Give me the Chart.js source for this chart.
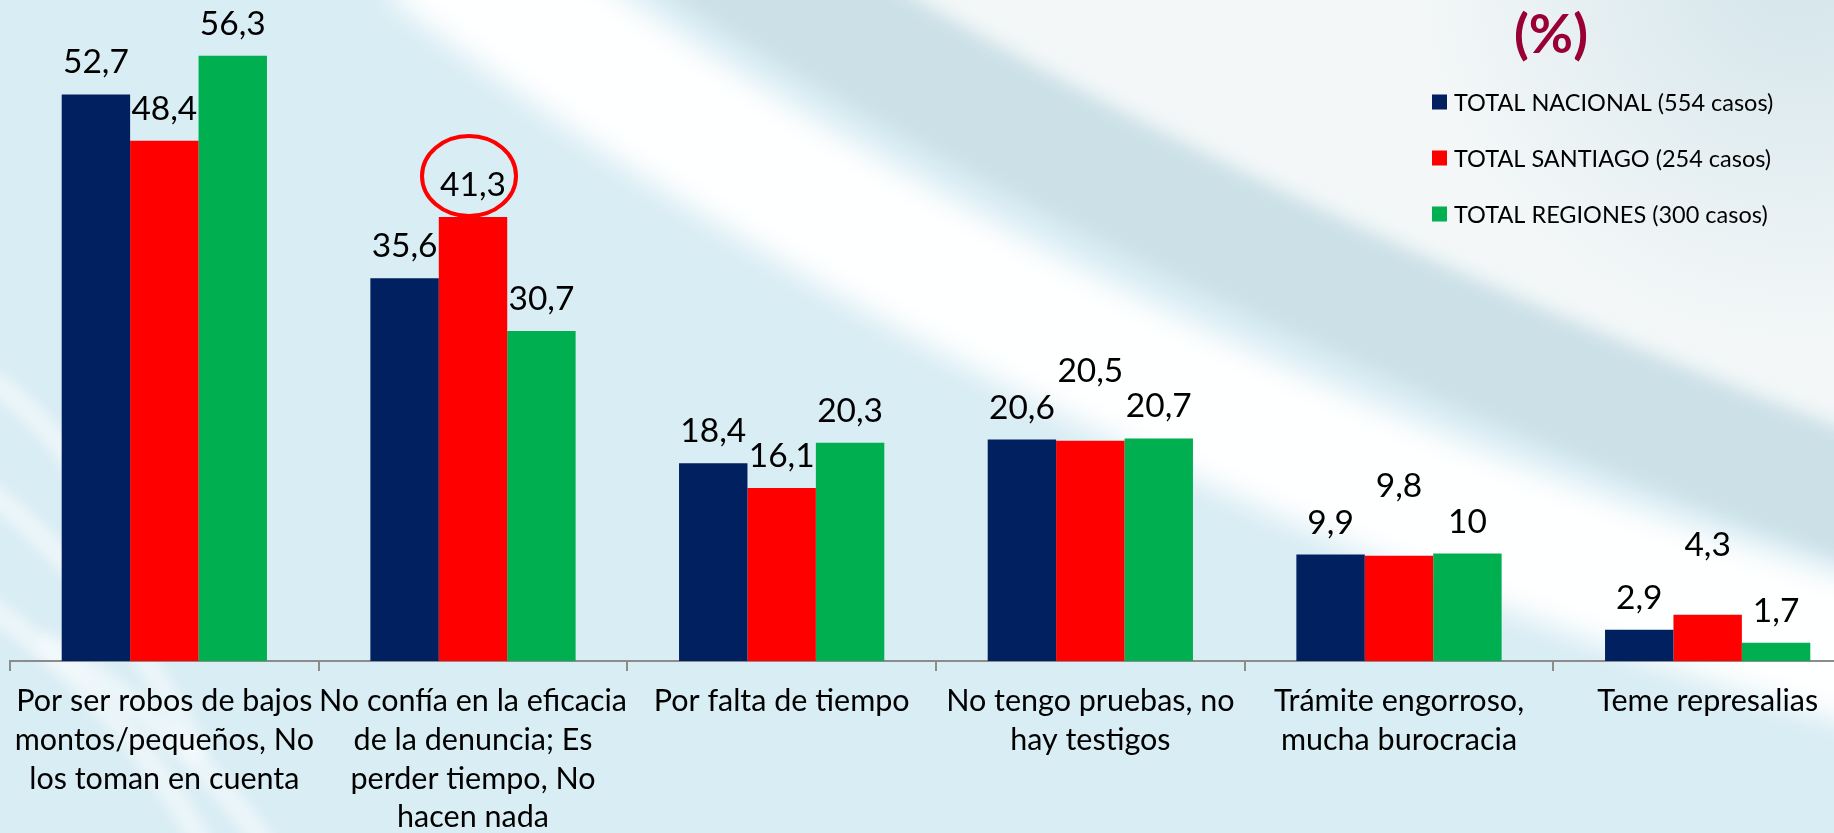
<!DOCTYPE html>
<html>
<head>
<meta charset="utf-8">
<script src="https://cdn.jsdelivr.net/npm/chart.js@4.4.1/dist/chart.umd.min.js"></script>
<style>
  html, body { margin: 0; padding: 0; width: 1834px; height: 833px; overflow: hidden; background: #d9edf4; }
  #wrap { position: absolute; left: 0; top: 0; width: 1880px; height: 833px; }
  canvas { display: block; }
</style>
</head>
<body>
<div id="wrap"><canvas id="c" width="1880" height="833"></canvas></div>
<script>
// ---------- DATA ----------
const categories = [
  ["Por ser robos de bajos", "montos/pequeños, No", "los toman en cuenta"],
  ["No confía en la eficacia", "de la denuncia; Es", "perder tiempo, No", "hacen nada"],
  ["Por falta de tiempo"],
  ["No tengo pruebas, no", "hay testigos"],
  ["Trámite engorroso,", "mucha burocracia"],
  ["Teme represalias"]
];
const seriesNames = [
  "TOTAL NACIONAL (554 casos)",
  "TOTAL SANTIAGO (254 casos)",
  "TOTAL REGIONES (300 casos)"
];
const nacional = [52.7, 35.6, 18.4, 20.6, 9.9, 2.9];
const santiago = [48.4, 41.3, 16.1, 20.5, 9.8, 4.3];
const regiones = [56.3, 30.7, 20.3, 20.7, 10, 1.7];
const unitTitle = "(%)";

const seriesColors = ["#002060", "#ff0000", "#00b050"];
const FONT = "Lato, 'Open Sans', 'DejaVu Sans', sans-serif";

// ---------- PLUGINS ----------
const backgroundPlugin = {
  id: 'bg',
  beforeDraw(chart) {
    const ctx = chart.ctx;
    const W = chart.width, H = chart.height;
    ctx.save();
    ctx.fillStyle = '#d9edf4';
    ctx.fillRect(0, 0, W, H);

    // upper-right light area
    ctx.filter = 'blur(18px)';
    ctx.fillStyle = '#f3f7f8';
    ctx.beginPath();
    ctx.moveTo(744, -60);
    ctx.bezierCurveTo(1000, 130, 1400, 330, 1950, 540);
    ctx.lineTo(1950, -60);
    ctx.closePath();
    ctx.fill();

    // slight blue-grey tint top right corner
    const g = ctx.createRadialGradient(1800, -40, 20, 1800, -40, 380);
    g.addColorStop(0, 'rgba(205,225,232,0.8)');
    g.addColorStop(1, 'rgba(205,225,232,0)');
    ctx.filter = 'none';
    ctx.fillStyle = g;
    ctx.fillRect(1300, 0, 600, 420);

    // grey-blue band
    ctx.filter = 'blur(9px)';
    ctx.strokeStyle = '#cbe0e7';
    ctx.lineWidth = 125;
    ctx.beginPath();
    ctx.moveTo(700, -60);
    ctx.bezierCurveTo(1000, 135, 1400, 335, 1950, 535);
    ctx.stroke();

    // white band below
    ctx.filter = 'blur(14px)';
    ctx.strokeStyle = 'rgba(255,255,255,0.97)';
    ctx.lineWidth = 140;
    ctx.beginPath();
    ctx.moveTo(430, -60);
    ctx.bezierCurveTo(760, 200, 1300, 500, 1950, 680);
    ctx.stroke();

    // faint swooshes lower-left
    ctx.filter = 'blur(7px)';
    ctx.strokeStyle = 'rgba(255,255,255,0.5)';
    ctx.lineWidth = 22;
    const sw = [[-40, 360, 120, 560], [-40, 470, 200, 760], [-20, 600, 220, 880], [40, 640, 300, 900]];
    sw.forEach(s => {
      ctx.beginPath();
      ctx.moveTo(s[0], s[1]);
      ctx.quadraticCurveTo((s[0] + s[2]) / 2 + 40, (s[1] + s[3]) / 2 - 30, s[2], s[3]);
      ctx.stroke();
    });
    ctx.restore();
  }
};

const valueLabelPlugin = {
  id: 'valueLabels',
  afterDatasetsDraw(chart, args, opts) {
    const ctx = chart.ctx;
    ctx.save();
    ctx.font = `33.5px ${FONT}`;
    ctx.fillStyle = '#000';
    ctx.textAlign = 'center';
    ctx.textBaseline = 'alphabetic';
    chart.data.datasets.forEach((ds, di) => {
      const meta = chart.getDatasetMeta(di);
      meta.data.forEach((bar, i) => {
        const lift = (opts.lift[di] || [])[i] || 0;
        const txt = String(ds.data[i]).replace('.', ',');
        ctx.fillText(txt, bar.x, bar.y - 21 - lift);
      });
    });
    ctx.restore();
  }
};

const highlightPlugin = {
  id: 'highlight',
  afterDatasetsDraw(chart, args, opts) {
    const bar = chart.getDatasetMeta(opts.dataset).data[opts.index];
    const ctx = chart.ctx;
    ctx.save();
    ctx.strokeStyle = '#ff0000';
    ctx.lineWidth = 4;
    ctx.beginPath();
    ctx.ellipse(bar.x - 4, bar.y - 41, 47, 40, 0, 0, Math.PI * 2);
    ctx.stroke();
    ctx.restore();
  }
};

const legendPlugin = {
  id: 'customLegend',
  afterDraw(chart) {
    const ctx = chart.ctx;
    ctx.save();
    // unit title
    ctx.font = `bold 54px ${FONT}`;
    ctx.fillStyle = '#990033';
    ctx.textAlign = 'center';
    ctx.textBaseline = 'alphabetic';
    ctx.fillText(unitTitle, 1551, 52.5);
    // legend rows
    ctx.font = `23.5px ${FONT}`;
    ctx.textAlign = 'left';
    ctx.textBaseline = 'middle';
    chart.data.datasets.forEach((ds, i) => {
      const cy = 102 + i * 56;
      ctx.fillStyle = ds.backgroundColor;
      ctx.fillRect(1432, cy - 7.5, 15, 15);
      ctx.fillStyle = '#000';
      ctx.fillText(ds.label, 1454, cy + 1);
    });
    ctx.restore();
  }
};

function build() {
  new Chart(document.getElementById('c'), {
    type: 'bar',
    data: {
      labels: categories,
      datasets: [
        { label: seriesNames[0], data: nacional, backgroundColor: seriesColors[0] },
        { label: seriesNames[1], data: santiago, backgroundColor: seriesColors[1] },
        { label: seriesNames[2], data: regiones, backgroundColor: seriesColors[2] }
      ]
    },
    options: {
      responsive: false,
      animation: false,
      events: [],
      layout: { padding: { left: 10, right: 18, top: 16, bottom: 0 } },
      datasets: { bar: { barPercentage: 1.0, categoryPercentage: 0.665, borderWidth: 0 } },
      scales: {
        x: {
          offset: true,
          grid: { display: true, offset: true, drawOnChartArea: false, drawTicks: true, tickLength: 10, color: '#8c8c8c', lineWidth: 2 },
          border: { display: true, color: '#8c8c8c', width: 2 },
          ticks: {
            autoSkip: false, maxRotation: 0, minRotation: 0,
            color: '#000', padding: 11,
            font: { family: FONT, size: 30.5, lineHeight: 1.27 }
          },
          afterFit(scale) { scale.height = 172; }
        },
        y: { display: false, min: 0, max: 60 }
      },
      plugins: {
        legend: { display: false },
        tooltip: { enabled: false },
        valueLabels: { lift: [[], [0, 0, 0, 38, 38, 38], []] },
        highlight: { dataset: 1, index: 1 }
      }
    },
    plugins: [backgroundPlugin, valueLabelPlugin, highlightPlugin, legendPlugin]
  });
}

const fontLoads = [
  document.fonts.load('29px Lato'),
  document.fonts.load('bold 46px Lato')
];
Promise.race([Promise.all(fontLoads), new Promise(r => setTimeout(r, 1500))]).then(build, build);
</script>
</body>
</html>
